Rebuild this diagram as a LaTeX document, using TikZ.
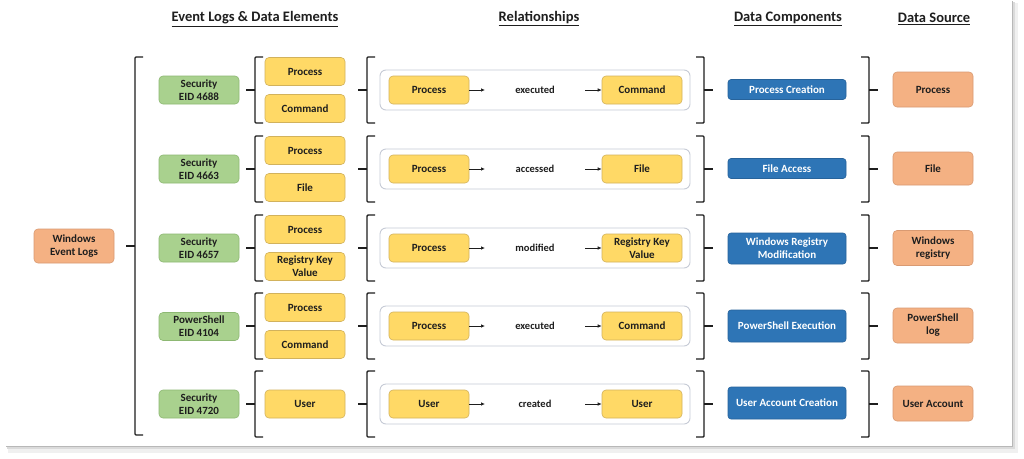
\documentclass[tikz,border=0pt]{standalone}
\usepackage{fontspec}
\setmainfont{Carlito}
\usepackage{tikz}
\usetikzlibrary{arrows.meta}

\definecolor{evgreen}{HTML}{A9D18E}
\definecolor{evgreenline}{HTML}{8DB873}
\definecolor{elyellow}{HTML}{FFD966}
\definecolor{elyellowline}{HTML}{D2B25C}
\definecolor{srcorange}{HTML}{F4B183}
\definecolor{srcorangeline}{HTML}{D99A72}
\definecolor{compblue}{HTML}{2E75B6}
\definecolor{framegray}{HTML}{C6CBD6}
\definecolor{inkdark}{HTML}{1E1E1E}

% opening and closing brackets: x, top, bottom
\newcommand{\openbrk}[3]{%
  \draw[brk] (#1+8,#2) -- (#1,#2) -- (#1,#3) -- (#1+8,#3);
  \draw[brk] (#1,{(#2+#3)/2}) -- (#1-9,{(#2+#3)/2});
}
\newcommand{\closebrk}[3]{%
  \draw[brk] (#1-8,#2) -- (#1,#2) -- (#1,#3) -- (#1-8,#3);
  \draw[brk] (#1,{(#2+#3)/2}) -- (#1+9,{(#2+#3)/2});
}

\tikzset{
  hdr/.style={font=\fontsize{14.5}{16}\selectfont\bfseries, text=inkdark},
  box/.style={draw, rounded corners=4pt, line width=0.6pt, minimum width=80pt,
    minimum height=28pt, inner sep=1pt, align=center, text=inkdark,
    font=\fontsize{11}{13}\selectfont\bfseries},
  logbox/.style={box, fill=evgreen, draw=evgreenline},
  elbox/.style={box, fill=elyellow, draw=elyellowline},
  srcbox/.style={box, fill=srcorange, draw=srcorangeline, minimum height=35pt},
  compbox/.style={box, fill=compblue, draw=compblue!85!black, text=white,
    rounded corners=3pt, minimum width=118pt, minimum height=20pt},
  verb/.style={font=\fontsize{10.5}{12}\selectfont\bfseries, text=inkdark},
  relframe/.style={draw=framegray, fill=white, rounded corners=6pt, line width=0.9pt},
  brk/.style={line width=1.4pt, rounded corners=1pt, inkdark},
  rel/.style={-{Latex[length=4pt,width=3.5pt]}, line width=0.7pt, inkdark}
}

\begin{document}
\begin{tikzpicture}[x=1pt, y=-1pt]
	\useasboundingbox (0,0) rectangle (1024,458);
	% Card and shadow
	\fill[white] (0,0) rectangle (1024,458);
	\fill[black!6] (8,3) rectangle (1018,453);
	\fill[black!14] (7,2) rectangle (1015,449);
	\fill[black!28] (6,1) rectangle (1013,447);
	\fill[white] (5,0) rectangle (1012,446);

	% Column titles
	\node[hdr] (hElem) at (255,19) {\underline{Event Logs \& Data Elements}};
	\node[hdr] (hRel) at (539,19) {\underline{Relationships}};
	\node[hdr] (hComp) at (788,19) {\underline{Data Components}};
	\node[hdr] (hSrc) at (934,19) {\underline{Data Source}};

	% Brackets and relationship frames
	\openbrk{135}{57}{435}
	\foreach \r/\y in {1/90,2/169,3/248,4/326,5/404} {
		\openbrk{255}{\y-33}{\y+33}
		\openbrk{367}{\y-33}{\y+33}
		\closebrk{704}{\y-33}{\y+33}
		\closebrk{869}{\y-33}{\y+33}
		\draw[relframe] (380,\y-20) rectangle (690,\y+20);
	}

	% Root
	\node[srcbox, minimum height=34pt] (wel) at (74,246) {Windows\\Event Logs};

	%Row 1
	\node[logbox] (log1) at (199,90) {Security\\EID 4688};
	\node[elbox] (e1a) at (305,71.5) {Process};
	\node[elbox] (e1b) at (305,108.5) {Command};
	\node[elbox] (f1) at (429,90) {Process};
	\node[verb] (v1) at (535,90) {executed};
	\node[elbox] (t1) at (642,90) {Command};
	\node[compbox] (c1) at (787,89.5) {Process Creation};
	\node[srcbox] (s1) at (933,89.5) {Process};

	%Row 2
	\node[logbox] (log2) at (199,169) {Security\\EID 4663};
	\node[elbox] (e2a) at (305,150.5) {Process};
	\node[elbox] (e2b) at (305,187.5) {File};
	\node[elbox] (f2) at (429,169) {Process};
	\node[verb] (v2) at (535,169) {accessed};
	\node[elbox] (t2) at (642,169) {File};
	\node[compbox] (c2) at (787,168.5) {File Access};
	\node[srcbox, minimum height=33pt] (s2) at (933,168.5) {File};

	%Row 3
	\node[logbox] (log3) at (199,248) {Security\\EID 4657};
	\node[elbox] (e3a) at (305,229.5) {Process};
	\node[elbox] (e3b) at (305,266.5) {Registry Key\\Value};
	\node[elbox] (f3) at (429,248) {Process};
	\node[verb] (v3) at (535,248) {modified};
	\node[elbox] (t3) at (642,248) {Registry Key\\Value};
	\node[compbox, minimum height=31pt] (c3) at (787,248.5) {Windows Registry\\Modification};
	\node[srcbox] (s3) at (933,248) {Windows\\registry};

	%Row 4
	\node[logbox] (log4) at (199,326.5) {PowerShell\\EID 4104};
	\node[elbox] (e4a) at (305,307.5) {Process};
	\node[elbox] (e4b) at (305,344.5) {Command};
	\node[elbox] (f4) at (429,326) {Process};
	\node[verb] (v4) at (535,326) {executed};
	\node[elbox] (t4) at (642,326) {Command};
	\node[compbox, minimum height=32pt] (c4) at (787,326) {PowerShell Execution};
	\node[srcbox] (s4) at (933,325.5) {PowerShell\\log};

	%Row 5
	\node[logbox] (log5) at (199,404) {Security\\EID 4720};
	\node[elbox] (e5a) at (305,404) {User};
	\node[elbox] (f5) at (429,404) {User};
	\node[verb] (v5) at (535,404) {created};
	\node[elbox] (t5) at (642,404) {User};
	\node[compbox, minimum height=32pt] (c5) at (787,403) {User Account Creation};
	\node[srcbox] (s5) at (933,403.5) {User Account};

	%Relationship arrows
	\foreach \r/\y in {1/90,2/169,3/248,4/326,5/404} {
		\coordinate (a\r) at (485,\y);
		\coordinate (b\r) at (585,\y);
		\draw[rel] (f\r.east) -- (a\r);
		\draw[rel] (b\r) -- (t\r.west);
	}

\end{tikzpicture}
\end{document}
